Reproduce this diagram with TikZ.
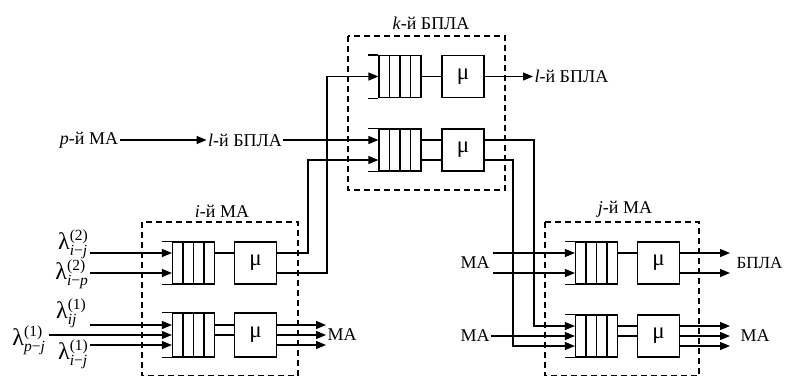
\documentclass[tikz,border=0pt]{standalone}
\usepackage{fontspec}
\setmainfont{Liberation Serif}
\usetikzlibrary{arrows.meta,calc}
\newcommand{\scr}[1]{\mbox{\fontsize{15.5}{15.5}\selectfont #1}}
\newcommand{\lam}[2]{{\fontsize{24}{24}\selectfont λ}$^{\scr{(#1)}}_{\scr{#2}}$}
\begin{document}
\begin{tikzpicture}[x=1pt,y=-1pt,line width=1.2pt,
  font=\fontsize{18}{21}\selectfont,
  box/.style={draw, minimum width=42pt, minimum height=42pt, inner sep=0pt},
  srv/.style={box, font=\fontsize{23}{23}\selectfont},
  queue/.style={box, path picture={
    \foreach \f in {0.25,0.5,0.75}{
      \draw[line width=1.2pt] ($(path picture bounding box.north west)!\f!(path picture bounding box.north east)$) --
        ($(path picture bounding box.south west)!\f!(path picture bounding box.south east)$);}}},
  arr/.style={-{Triangle[length=10pt,width=8pt]}},
  grp/.style={draw, dash pattern=on 6pt off 4pt},
  lbl/.style={inner sep=1pt},
  lam/.style={inner sep=0pt}]
\useasboundingbox (0,0) rectangle (785,376);

% group frames
\draw[grp] (348,36) rectangle (505,190);
\node[lbl] (kl) at (431,23) {\textit{k}-й БПЛА};
\draw[grp] (142,222) rectangle (298,375.8);
\node[lbl] (il) at (222,211) {\textit{i}-й МА};
\draw[grp] (545,222) rectangle (699,375.8);
\node[lbl] (jl) at (625,209) {\textit{j}-й МА};

% queues and servers
\node[queue] (qk1) at (400,76.5) {};
\node[srv] (mk1) at (463,76.5) {μ};
\node[queue] (qk2) at (400,150) {};
\node[srv] (mk2) at (463,150) {μ};
\node[queue] (qi1) at (193.5,263) {};
\node[srv] (mi1) at (255.5,263) {μ};
\node[queue,minimum height=44pt] (qi2) at (193.5,335) {};
\node[srv,minimum height=44pt] (mi2) at (255.5,335) {μ};
\node[queue] (qj1) at (596.5,263) {};
\node[srv] (mj1) at (658.5,263) {μ};
\node[queue] (qj2) at (596.5,336) {};
\node[srv] (mj2) at (658.5,336) {μ};
\foreach \q in {qk1,qk2,qi1,qi2,qj1,qj2}
  \draw (\q.north west) -- ++(-10,0) (\q.south west) -- ++(-10,0);

% queue -> server links
\draw (qk1) -- (mk1);
\draw ([yshift=10pt]qk2.east) -- ([yshift=10pt]mk2.west);
\draw ([yshift=-10pt]qk2.east) -- ([yshift=-10pt]mk2.west);
\draw ([yshift=10pt]qi1.east) -- ([yshift=10pt]mi1.west);
\draw ([yshift=10pt]qi2.east) -- ([yshift=10pt]mi2.west);
\draw (qi2.east) -- (mi2.west);
\draw ([yshift=10pt]qj1.east) -- ([yshift=10pt]mj1.west);
\draw ([yshift=10pt]qj2.east) -- ([yshift=10pt]mj2.west);
\draw (qj2.east) -- (mj2.west);

% ports
\coordinate (k2i1) at ([yshift=10pt]qk2.west);
\coordinate (k2i2) at ([yshift=-10pt]qk2.west);
\coordinate (k2o1) at ([yshift=10pt]mk2.east);
\coordinate (k2o2) at ([yshift=-10pt]mk2.east);
\coordinate (i1i1) at ([yshift=10pt]qi1.west);
\coordinate (i1i2) at ([yshift=-10pt]qi1.west);
\coordinate (i1o1) at ([yshift=10pt]mi1.east);
\coordinate (i1o2) at ([yshift=-10pt]mi1.east);
\coordinate (i2o1) at ([yshift=10pt]mi2.east);
\coordinate (i2o3) at ([yshift=-10pt]mi2.east);
\coordinate (j1i1) at ([yshift=10pt]qj1.west);
\coordinate (j1i2) at ([yshift=-10pt]qj1.west);
\coordinate (j1o1) at ([yshift=10pt]mj1.east);
\coordinate (j1o2) at ([yshift=-10pt]mj1.east);
\coordinate (j2i1) at ([yshift=10pt]qj2.west);
\coordinate (j2i3) at ([yshift=-10pt]qj2.west);
\coordinate (j2o1) at ([yshift=10pt]mj2.east);
\coordinate (j2o3) at ([yshift=-10pt]mj2.east);
\coordinate (r1) at (534,0);
\coordinate (r2) at (513,0);
\coordinate (r3) at (308,0);
\coordinate (r4) at (327,0);
\coordinate (tip) at (730,0);

% top-left chain
\node[lbl] (pma) at (89,140) {\textit{p}-й МА};
\node[lbl] (lb) at (245,140) {\textit{l}-й БПЛА};
\draw[arr] (pma) -- (lb);
\draw[arr] (lb) -- (k2i1);

% k outputs
\node[lbl,anchor=west] (lbo) at (533,76.5) {\textit{l}-й БПЛА};
\draw[arr] (mk1) -- (lbo);
\draw[arr] (k2o1) -- (r1 |- k2o1) -- (r1 |- j2i1) -- (j2i1);
\draw[arr] (k2o2) -- (r2 |- k2o2) -- (r2 |- j2i3) -- (j2i3);

% i outputs to k
\draw[arr] (i1o1) -- (r3 |- i1o1) -- (r3 |- k2i2) -- (k2i2);
\draw[arr] (i1o2) -- (r4 |- i1o2) -- (r4 |- qk1.west) -- (qk1.west);

% i inputs
\node[lam,anchor=east] (la1) at (89,244.5) {\lam{2}{\textit{i}−\textit{j}}};
\node[lam,anchor=east] (la2) at (89,274) {\lam{2}{\textit{i}−\textit{p}}};
\coordinate (a1) at (90,0);
\draw[arr] (a1 |- i1i1) -- (i1i1);
\draw[arr] (a1 |- i1i2) -- (i1i2);
\node[lam,anchor=east] (lb1) at (87,313) {\lam{1}{\textit{ij}}};
\node[lam,anchor=east] (lb2) at (46,340) {\lam{1}{\textit{p}−\textit{j}}};
\node[lam,anchor=east] (lb3) at (89,354) {\lam{1}{\textit{i}−\textit{j}}};
\coordinate (b1) at (90,325);
\coordinate (b2) at (49,335);
\coordinate (b3) at (90,345);
\draw[arr] (b1) -- (b1 -| qi2.west);
\draw[arr] (b2) -- (b2 -| qi2.west);
\draw[arr] (b3) -- (b3 -| qi2.west);

% i outputs
\node[lbl,anchor=west] (ima) at (326,335) {МА};
\draw[arr] (i2o1) -- (i2o1 -| ima.west);
\draw[arr] (mi2) -- (ima);
\draw[arr] (i2o3) -- (i2o3 -| ima.west);

% j inputs
\node[lbl] (jma1) at (475,263) {МА};
\coordinate (c1) at (493,0);
\draw[arr] (c1 |- j1i1) -- (j1i1);
\draw[arr] (c1 |- j1i2) -- (j1i2);
\node[lbl] (jma2) at (475,336) {МА};
\draw[arr] (jma2) -- (qj2);

% j outputs
\node[lbl,anchor=west,font=\fontsize{17}{20}\selectfont] (jbp) at (735,263) {БПЛА};
\draw[arr] (j1o1) -- (tip |- j1o1);
\draw[arr] (j1o2) -- (tip |- j1o2);
\node[lbl,anchor=west] (jmo) at (739,336) {МА};
\draw[arr] (j2o1) -- (tip |- j2o1);
\draw[arr] (mj2) -- (tip |- mj2);
\draw[arr] (j2o3) -- (tip |- j2o3);
\end{tikzpicture}
\end{document}
